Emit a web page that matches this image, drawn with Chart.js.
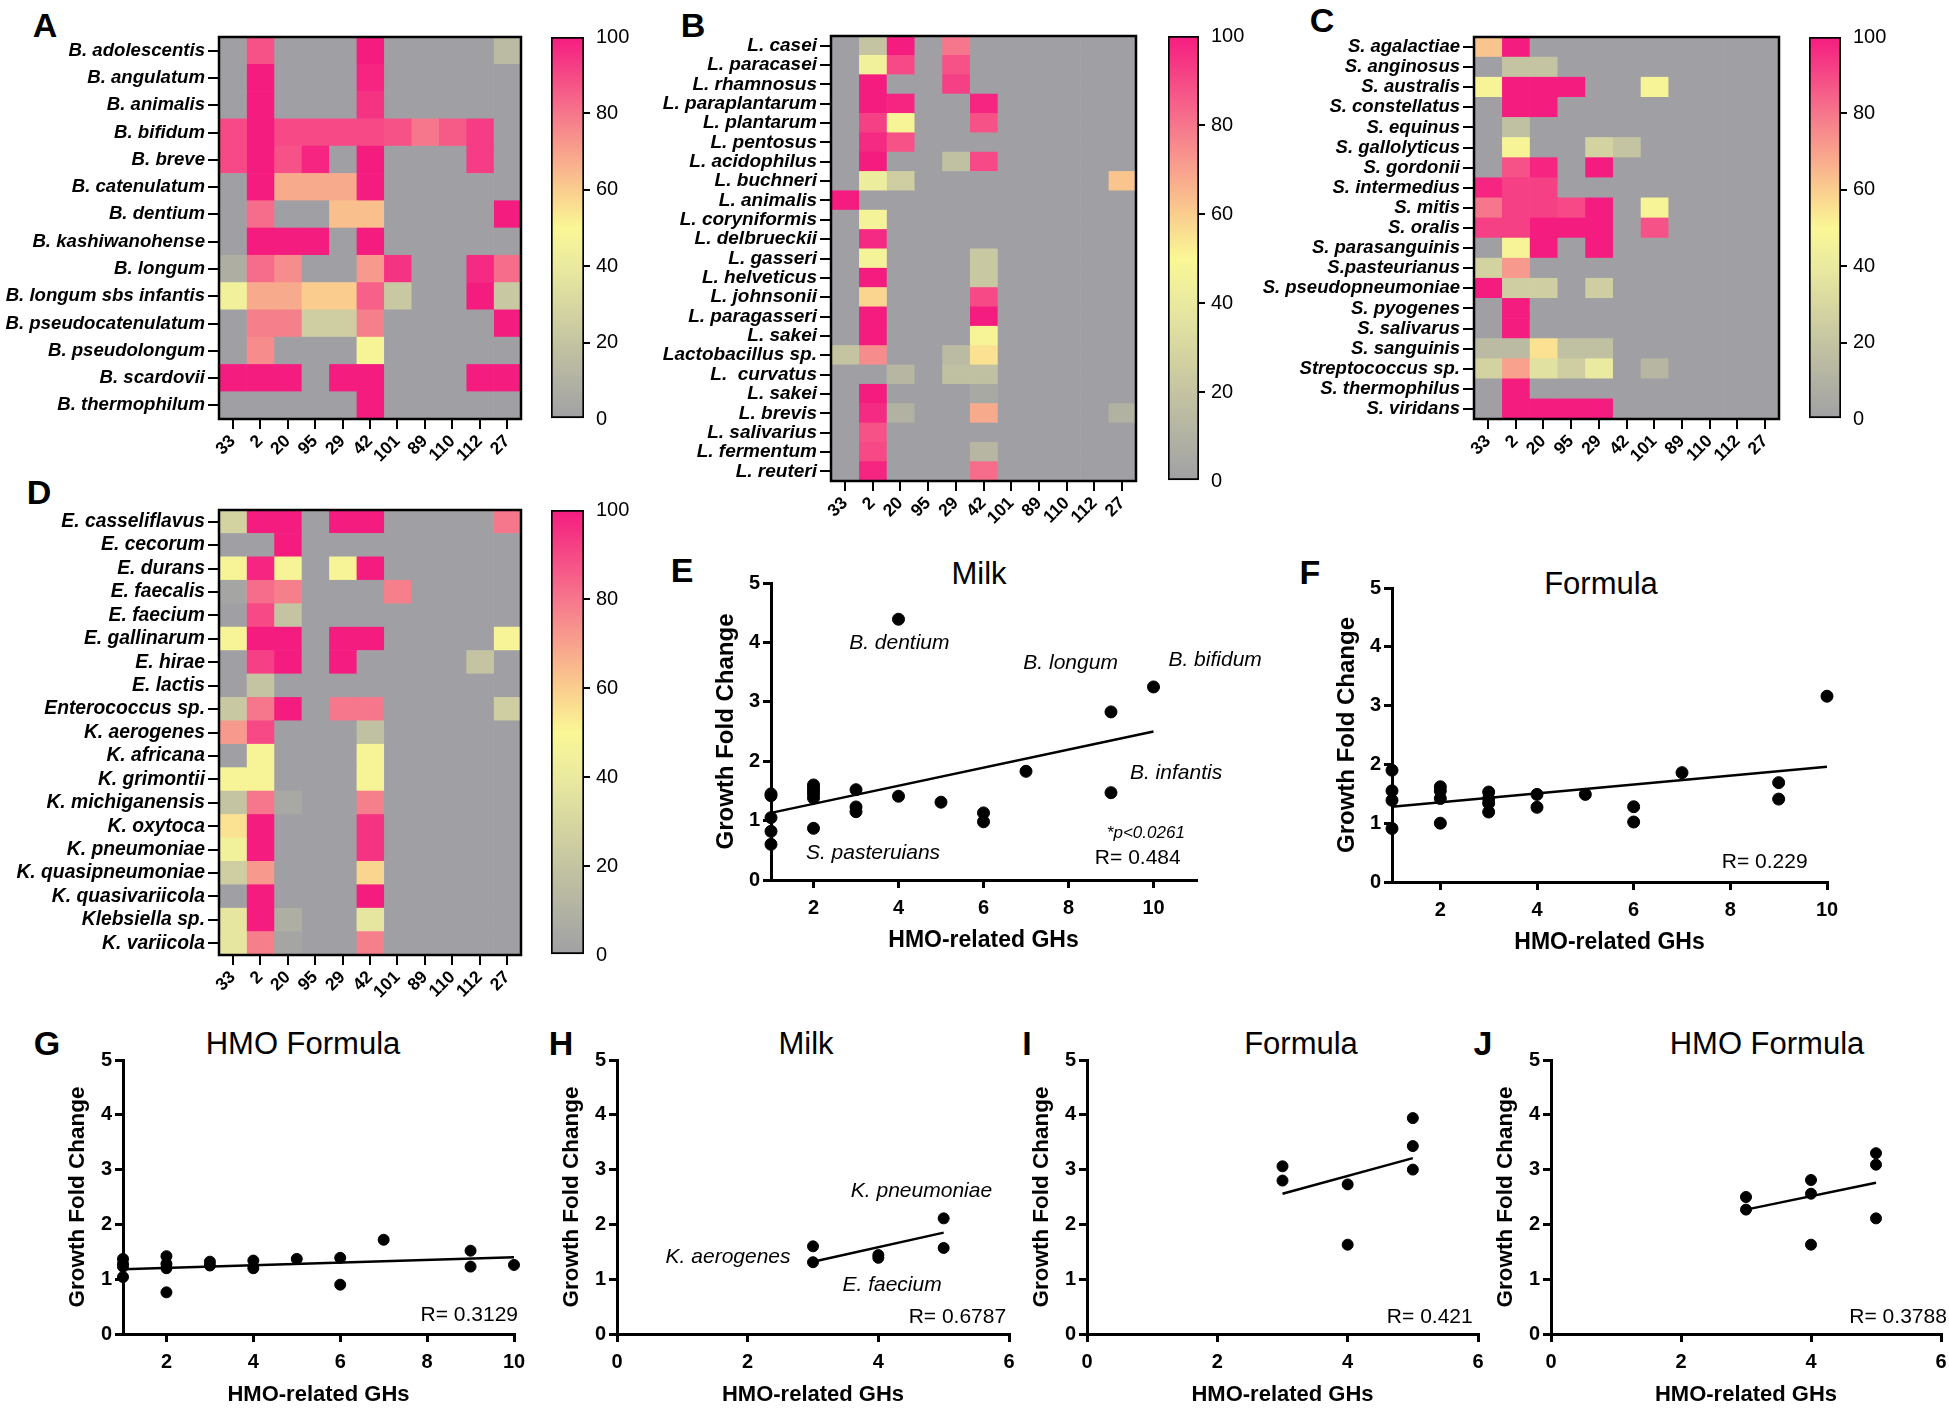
<!DOCTYPE html>
<html>
<head>
<meta charset="utf-8">
<script src="https://cdn.jsdelivr.net/npm/chart.js@4/dist/chart.umd.min.js"></script>
<style>
  html, body { margin: 0; padding: 0; overflow: hidden; background: #fff; }
  body { position: relative; width: 1949px; height: 1409px; font-family: 'Liberation Sans', Arial, sans-serif; }
  .t { position: absolute; transform: translate(-50%, -50%); white-space: nowrap; line-height: 1; color: #000; }
  .letter { font-size: 34px; font-weight: bold; }
  .title { font-size: 31px; }
</style>
</head>
<body>
<div class="t letter" style="left:45px;top:25px">A</div>
<div class="t letter" style="left:693px;top:25px">B</div>
<div class="t letter" style="left:1322px;top:20px">C</div>
<div class="t letter" style="left:39px;top:492px">D</div>
<div class="t letter" style="left:682px;top:570px">E</div>
<div class="t letter" style="left:1310px;top:572px">F</div>
<div class="t letter" style="left:47px;top:1043px">G</div>
<div class="t letter" style="left:561px;top:1043px">H</div>
<div class="t letter" style="left:1027px;top:1043px">I</div>
<div class="t letter" style="left:1483px;top:1043px">J</div>
<div class="t title" style="left:979px;top:573px">Milk</div>
<div class="t title" style="left:1601px;top:583px">Formula</div>
<div class="t title" style="left:303px;top:1043px">HMO Formula</div>
<div class="t title" style="left:806px;top:1043px">Milk</div>
<div class="t title" style="left:1301px;top:1043px">Formula</div>
<div class="t title" style="left:1767px;top:1043px">HMO Formula</div>

<script>
// GH families (heatmap columns)
const ghCols = ['33', '2', '20', '95', '29', '42', '101', '89', '110', '112', '27'];

// A - Bifidobacterium
const rowsA = ['B. adolescentis', 'B. angulatum', 'B. animalis', 'B. bifidum', 'B. breve', 'B. catenulatum',
  'B. dentium', 'B. kashiwanohense', 'B. longum', 'B. longum sbs infantis', 'B. pseudocatenulatum',
  'B. pseudolongum', 'B. scardovii', 'B. thermophilum'];
const valsA = [
  [0, 88, 0, 0, 0, 100, 0, 0, 0, 0, 15],
  [0, 100, 0, 0, 0, 98, 0, 0, 0, 0, 0],
  [0, 100, 0, 0, 0, 95, 0, 0, 0, 0, 0],
  [90, 100, 90, 90, 90, 90, 88, 80, 86, 93, 0],
  [90, 100, 88, 98, 0, 100, 0, 0, 0, 93, 0],
  [0, 100, 68, 68, 68, 100, 0, 0, 0, 0, 0],
  [0, 82, 0, 0, 63, 63, 0, 0, 0, 0, 100],
  [0, 100, 100, 100, 0, 100, 0, 0, 0, 0, 0],
  [8, 82, 75, 0, 0, 72, 95, 0, 0, 97, 82],
  [45, 68, 68, 60, 60, 85, 22, 0, 0, 100, 22],
  [0, 78, 78, 25, 25, 78, 0, 0, 0, 0, 100],
  [0, 75, 0, 0, 0, 48, 0, 0, 0, 0, 0],
  [100, 100, 100, 0, 100, 100, 0, 0, 0, 100, 100],
  [0, 0, 0, 0, 0, 100, 0, 0, 0, 0, 0]
];

// B - Lactobacillus
const rowsB = ['L. casei', 'L. paracasei', 'L. rhamnosus', 'L. paraplantarum', 'L. plantarum', 'L. pentosus',
  'L. acidophilus', 'L. buchneri', 'L. animalis', 'L. coryniformis', 'L. delbrueckii', 'L. gasseri',
  'L. helveticus', 'L. johnsonii', 'L. paragasseri', 'L. sakei', 'Lactobacillus sp.', 'L.  curvatus',
  'L. sakei', 'L. brevis', 'L. salivarius', 'L. fermentum', 'L. reuteri'];
const valsB = [
  [0, 20, 100, 0, 80, 0, 0, 0, 0, 0, 0],
  [0, 45, 90, 0, 88, 0, 0, 0, 0, 0, 0],
  [0, 100, 0, 0, 92, 0, 0, 0, 0, 0, 0],
  [0, 100, 98, 0, 0, 98, 0, 0, 0, 0, 0],
  [0, 92, 48, 0, 0, 88, 0, 0, 0, 0, 0],
  [0, 97, 88, 0, 0, 0, 0, 0, 0, 0, 0],
  [0, 100, 0, 0, 18, 90, 0, 0, 0, 0, 0],
  [0, 42, 25, 0, 0, 0, 0, 0, 0, 0, 62],
  [100, 0, 0, 0, 0, 0, 0, 0, 0, 0, 0],
  [0, 47, 0, 0, 0, 0, 0, 0, 0, 0, 0],
  [0, 97, 0, 0, 0, 0, 0, 0, 0, 0, 0],
  [0, 47, 0, 0, 0, 22, 0, 0, 0, 0, 0],
  [0, 100, 0, 0, 0, 22, 0, 0, 0, 0, 0],
  [0, 58, 0, 0, 0, 90, 0, 0, 0, 0, 0],
  [0, 100, 0, 0, 0, 100, 0, 0, 0, 0, 0],
  [0, 100, 0, 0, 0, 48, 0, 0, 0, 0, 0],
  [20, 75, 0, 0, 15, 55, 0, 0, 0, 0, 0],
  [0, 0, 12, 0, 18, 18, 0, 0, 0, 0, 0],
  [0, 100, 0, 0, 0, 5, 0, 0, 0, 0, 0],
  [0, 97, 10, 0, 0, 68, 0, 0, 0, 0, 10],
  [0, 88, 0, 0, 0, 0, 0, 0, 0, 0, 0],
  [0, 90, 0, 0, 0, 12, 0, 0, 0, 0, 0],
  [0, 98, 0, 0, 0, 82, 0, 0, 0, 0, 0]
];

// C - Streptococcus
const rowsC = ['S. agalactiae', 'S. anginosus', 'S. australis', 'S. constellatus', 'S. equinus', 'S. gallolyticus',
  'S. gordonii', 'S. intermedius', 'S. mitis', 'S. oralis', 'S. parasanguinis', 'S.pasteurianus',
  'S. pseudopneumoniae', 'S. pyogenes', 'S. salivarus', 'S. sanguinis', 'Streptococcus sp.',
  'S. thermophilus', 'S. viridans'];
const valsC = [
  [62, 100, 0, 0, 0, 0, 0, 0, 0, 0, 0],
  [0, 20, 20, 0, 0, 0, 0, 0, 0, 0, 0],
  [48, 100, 100, 100, 0, 0, 48, 0, 0, 0, 0],
  [0, 100, 100, 0, 0, 0, 0, 0, 0, 0, 0],
  [0, 18, 0, 0, 0, 0, 0, 0, 0, 0, 0],
  [0, 48, 0, 0, 28, 20, 0, 0, 0, 0, 0],
  [0, 88, 98, 0, 100, 0, 0, 0, 0, 0, 0],
  [98, 92, 92, 0, 0, 0, 0, 0, 0, 0, 0],
  [80, 92, 92, 90, 100, 0, 48, 0, 0, 0, 0],
  [92, 92, 100, 100, 100, 0, 88, 0, 0, 0, 0],
  [0, 48, 100, 0, 100, 0, 0, 0, 0, 0, 0],
  [28, 72, 0, 0, 0, 0, 0, 0, 0, 0, 0],
  [100, 25, 25, 0, 25, 0, 0, 0, 0, 0, 0],
  [0, 100, 0, 0, 0, 0, 0, 0, 0, 0, 0],
  [0, 100, 0, 0, 0, 0, 0, 0, 0, 0, 0],
  [15, 15, 55, 18, 18, 0, 0, 0, 0, 0, 0],
  [28, 70, 35, 25, 40, 0, 12, 0, 0, 0, 0],
  [0, 100, 0, 0, 0, 0, 0, 0, 0, 0, 0],
  [0, 100, 100, 100, 100, 0, 0, 0, 0, 0, 0]
];

// D - Enterococcus / Klebsiella
const rowsD = ['E. casseliflavus', 'E. cecorum', 'E. durans', 'E. faecalis', 'E. faecium', 'E. gallinarum',
  'E. hirae', 'E. lactis', 'Enterococcus sp.', 'K. aerogenes', 'K. africana', 'K. grimontii',
  'K. michiganensis', 'K. oxytoca', 'K. pneumoniae', 'K. quasipneumoniae', 'K. quasivariicola',
  'Klebsiella sp.', 'K. variicola'];
const valsD = [
  [28, 100, 100, 0, 100, 100, 0, 0, 0, 0, 80],
  [0, 0, 100, 0, 0, 0, 0, 0, 0, 0, 0],
  [48, 98, 48, 0, 48, 100, 0, 0, 0, 0, 0],
  [3, 82, 78, 0, 0, 0, 78, 0, 0, 0, 0],
  [0, 90, 20, 0, 0, 0, 0, 0, 0, 0, 0],
  [48, 100, 100, 0, 100, 100, 0, 0, 0, 0, 48],
  [0, 92, 100, 0, 100, 0, 0, 0, 0, 20, 0],
  [0, 20, 0, 0, 0, 0, 0, 0, 0, 0, 0],
  [22, 80, 100, 0, 80, 80, 0, 0, 0, 0, 25],
  [72, 90, 0, 0, 0, 18, 0, 0, 0, 0, 0],
  [0, 48, 0, 0, 0, 48, 0, 0, 0, 0, 0],
  [48, 48, 0, 0, 0, 48, 0, 0, 0, 0, 0],
  [20, 80, 5, 0, 0, 78, 0, 0, 0, 0, 0],
  [55, 100, 0, 0, 0, 95, 0, 0, 0, 0, 0],
  [45, 100, 0, 0, 0, 95, 0, 0, 0, 0, 0],
  [25, 72, 0, 0, 0, 58, 0, 0, 0, 0, 0],
  [0, 100, 0, 0, 0, 100, 0, 0, 0, 0, 0],
  [38, 100, 8, 0, 0, 38, 0, 0, 0, 0, 0],
  [38, 78, 3, 0, 0, 78, 0, 0, 0, 0, 0]
];

// E-J scatter data: HMO-related GHs vs growth fold change
const xE = [1, 1, 1, 1, 1, 2, 2, 2, 2, 2, 2, 3, 3, 3, 4, 4, 5, 6, 6, 7, 9, 9, 10];
const yE = [1.45, 1.42, 1.05, 0.82, 0.60, 1.60, 1.55, 1.50, 1.45, 1.38, 0.87, 1.52, 1.23, 1.15, 4.39, 1.41, 1.31, 1.13, 0.98, 1.83, 2.83, 1.47, 3.25];
const fitXE = [1, 10];
const fitYE = [1.13, 2.50];

const xF = [1, 1, 1, 1, 2, 2, 2, 2, 3, 3, 3, 3, 4, 4, 5, 6, 6, 7, 9, 9, 10];
const yF = [1.90, 1.55, 1.39, 0.91, 1.62, 1.55, 1.42, 1.00, 1.53, 1.42, 1.34, 1.19, 1.49, 1.27, 1.49, 1.28, 1.02, 1.86, 1.69, 1.41, 3.16];
const fitXF = [1, 10];
const fitYF = [1.28, 1.96];

const xG = [1, 1, 1, 1, 2, 2, 2, 2, 3, 3, 4, 4, 5, 6, 6, 7, 9, 9, 10];
const yG = [1.37, 1.28, 1.23, 1.04, 1.42, 1.28, 1.20, 0.76, 1.32, 1.25, 1.34, 1.20, 1.37, 1.39, 0.90, 1.72, 1.52, 1.23, 1.26];
const fitXG = [1, 10];
const fitYG = [1.18, 1.40];

const xH = [3, 3, 4, 4, 5, 5];
const yH = [1.60, 1.31, 1.44, 1.39, 2.11, 1.57];
const fitXH = [3, 5];
const fitYH = [1.32, 1.85];

const xI = [3, 3, 4, 4, 5, 5, 5];
const yI = [3.06, 2.80, 2.73, 1.63, 3.94, 3.43, 3.00];
const fitXI = [3, 5];
const fitYI = [2.56, 3.21];

const xJ = [3, 3, 4, 4, 4, 5, 5, 5];
const yJ = [2.50, 2.27, 2.81, 2.56, 1.63, 3.30, 3.09, 2.11];
const fitXJ = [3, 5];
const fitYJ = [2.27, 2.76];

const ticksWide = [2, 4, 6, 8, 10];
const ticksNarrow = [0, 2, 4, 6];

// colour map, grey -> olive -> yellow -> peach -> pink
const cmapStops = [0, 20, 40, 50, 60, 80, 100];
const cmapRGB = [[160, 160, 164], [196, 196, 162], [234, 234, 160], [250, 247, 150], [250, 205, 142], [246, 118, 140], [245, 28, 128]];

const FONT = "'Liberation Sans', Arial, sans-serif";
Chart.defaults.font.family = FONT;
Chart.defaults.color = '#000';
Chart.defaults.animation = false;

function rgb(a) { return `rgb(${a[0]},${a[1]},${a[2]})`; }

function heatColor(v) {
  for (let i = 1; i < cmapStops.length; i++) {
    if (v <= cmapStops[i]) {
      const f = (v - cmapStops[i - 1]) / (cmapStops[i] - cmapStops[i - 1]);
      const a = cmapRGB[i - 1], b = cmapRGB[i];
      return rgb(a.map((c, k) => Math.round(c + (b[k] - c) * f)));
    }
  }
  return rgb(cmapRGB[cmapRGB.length - 1]);
}

function place(left, top, w, h) {
  const c = document.createElement('canvas');
  c.width = w; c.height = h;
  c.style.cssText = `position:absolute;left:${left}px;top:${top}px;width:${w}px;height:${h}px`;
  document.body.appendChild(c);
  return c;
}

const boxPlugin = {
  id: 'box',
  afterDraw(chart) {
    const { ctx, chartArea: a } = chart;
    ctx.save();
    ctx.lineWidth = 2.5;
    ctx.strokeStyle = '#000';
    ctx.strokeRect(a.left, a.top, a.right - a.left, a.bottom - a.top);
    ctx.restore();
  }
};

function notesPlugin(items) {
  return {
    id: 'notes',
    afterDraw(chart) {
      const { ctx, scales: { x, y } } = chart;
      ctx.save();
      ctx.fillStyle = '#000';
      ctx.textAlign = 'center';
      ctx.textBaseline = 'middle';
      items.forEach(n => {
        ctx.font = n.font;
        ctx.fillText(n.text, x.getPixelForValue(n.x), y.getPixelForValue(n.y));
      });
      ctx.restore();
    }
  };
}

function heatmap(rows, vals, box, labW, fontSize) {
  const [l, t, r, b] = box;
  const padT = 16, padR = 6, xH = 70;
  const canvas = place(l - labW, t - padT, labW + (r - l) + padR, (b - t) + padT + xH);
  new Chart(canvas, {
    type: 'bar',
    data: {
      labels: rows,
      datasets: ghCols.map((g, j) => ({
        label: g,
        data: rows.map(() => 1),
        backgroundColor: rows.map((_, i) => heatColor(vals[i][j])),
        borderWidth: 0,
        barPercentage: 1,
        categoryPercentage: 1
      }))
    },
    options: {
      indexAxis: 'y',
      responsive: false,
      animation: false,
      layout: { padding: { top: padT, right: padR, left: 0, bottom: 0 } },
      plugins: { legend: { display: false }, tooltip: { enabled: false } },
      scales: {
        x: {
          stacked: true, min: 0, max: ghCols.length,
          afterBuildTicks: s => { s.ticks = ghCols.map((g, j) => ({ value: j + 0.5 })); },
          afterFit: s => { s.height = xH; },
          ticks: { autoSkip: false, minRotation: 45, maxRotation: 45, padding: 2,
            font: { size: 17.5, weight: 'bold' }, callback: (v, i) => ghCols[i] },
          grid: { drawOnChartArea: false, tickLength: 10, color: '#000', lineWidth: 2 },
          border: { display: false }
        },
        y: {
          stacked: true,
          afterFit: s => { s.width = labW; },
          ticks: { autoSkip: false, padding: 3, font: { size: fontSize, weight: 'bold', style: 'italic' } },
          grid: { drawOnChartArea: false, offset: false, tickLength: 11, color: '#000', lineWidth: 2 },
          border: { display: false }
        }
      }
    },
    plugins: [boxPlugin]
  });
}

function colorbar(box) {
  const [l, t, r, b] = box;
  const pad = 20, axW = 62;
  const canvas = place(l, t - pad, (r - l) + axW, (b - t) + 2 * pad);
  new Chart(canvas, {
    type: 'bar',
    data: {
      labels: [''],
      datasets: [{
        data: [[0, 100]],
        backgroundColor: c => {
          const a = c.chart.chartArea;
          if (!a) return '#aaa';
          const g = c.chart.ctx.createLinearGradient(0, a.bottom, 0, a.top);
          cmapStops.forEach((s, i) => g.addColorStop(s / 100, rgb(cmapRGB[i])));
          return g;
        },
        borderColor: '#000', borderWidth: 2, borderSkipped: false,
        barPercentage: 1, categoryPercentage: 1
      }]
    },
    options: {
      responsive: false,
      animation: false,
      layout: { padding: { top: pad, bottom: pad, left: 0, right: 0 } },
      plugins: { legend: { display: false }, tooltip: { enabled: false } },
      scales: {
        x: { display: false },
        y: {
          position: 'right', min: 0, max: 100,
          afterFit: s => { s.width = axW; },
          ticks: { stepSize: 20, padding: 6, font: { size: 20 } },
          grid: { drawOnChartArea: false, tickLength: 6, lineWidth: 2,
            color: c => (c.tick && (c.tick.value === 0 || c.tick.value === 100)) ? 'rgba(0,0,0,0)' : '#000' },
          border: { display: false }
        }
      }
    }
  });
}

function scatter(xs, ys, fitX, fitY, plot, xMin, xMax, xTicks, padR, radius, titleSize, notes) {
  const [l, t, r, b] = plot;
  const yW = 62, padT = 20, xH = 78;
  const canvas = place(l - yW, t - padT, yW + (r - l) + padR, padT + (b - t) + xH);
  const axisGrid = { drawOnChartArea: false, tickLength: 8, color: '#000', lineWidth: 3 };
  new Chart(canvas, {
    type: 'scatter',
    data: {
      datasets: [
        { data: xs.map((x, i) => ({ x, y: ys[i] })), backgroundColor: '#000', borderColor: '#000',
          pointRadius: radius, clip: false },
        { data: fitX.map((x, i) => ({ x, y: fitY[i] })), showLine: true, borderColor: '#000',
          borderWidth: 2.5, pointRadius: 0, clip: false }
      ]
    },
    options: {
      responsive: false,
      animation: false,
      layout: { padding: { top: padT, right: padR, left: 0, bottom: 0 } },
      plugins: { legend: { display: false }, tooltip: { enabled: false } },
      scales: {
        x: {
          type: 'linear', min: xMin, max: xMax,
          afterBuildTicks: s => { s.ticks = xTicks.map(v => ({ value: v })); },
          afterFit: s => { s.height = xH; },
          ticks: { padding: 8, font: { size: 20, weight: 'bold' } },
          grid: axisGrid,
          border: { color: '#000', width: 3 },
          title: { display: true, text: 'HMO-related GHs', font: { size: titleSize[0], weight: 'bold' }, padding: { top: 4, bottom: 4 } }
        },
        y: {
          min: 0, max: 5,
          afterFit: s => { s.width = yW; },
          ticks: { stepSize: 1, padding: 3, font: { size: 20, weight: 'bold' } },
          grid: axisGrid,
          border: { color: '#000', width: 3 },
          title: { display: true, text: 'Growth Fold Change', font: { size: titleSize[1], weight: 'bold' }, padding: { top: 3, bottom: 3 } }
        }
      }
    },
    plugins: [notesPlugin(notes)]
  });
}

const itF = `italic 21px ${FONT}`;
const rF = `21px ${FONT}`;
const pF = `italic 17px ${FONT}`;
const bigTitles = [23, 24];
const smallTitles = [22, 22.5];

// heatmaps and colour bars
heatmap(rowsA, valsA, [219, 37, 521, 419], 219, 18.6);
colorbar([551, 37, 584, 419]);
heatmap(rowsB, valsB, [831, 36, 1136, 481], 180, 19);
colorbar([1168, 36, 1199, 481]);
heatmap(rowsC, valsC, [1474, 37, 1779, 419], 226, 18.5);
colorbar([1809, 37, 1841, 419]);
heatmap(rowsD, valsD, [219, 510, 521, 955], 219, 19.3);
colorbar([551, 510, 584, 955]);

// scatter panels
scatter(xE, yE, fitXE, fitYE, [771, 583, 1196, 880], 1, 11, ticksWide, 80, 6, bigTitles, [
  { text: 'B. dentium', x: 4.02, y: 3.99, font: itF },
  { text: 'B. longum', x: 8.05, y: 3.65, font: itF },
  { text: 'B. bifidum', x: 11.45, y: 3.70, font: itF },
  { text: 'B. infantis', x: 10.53, y: 1.80, font: itF },
  { text: 'S. pasteruians', x: 3.4, y: 0.45, font: itF },
  { text: '*p<0.0261', x: 9.82, y: 0.79, font: pF },
  { text: 'R= 0.484', x: 9.63, y: 0.37, font: rF }
]);
scatter(xF, yF, fitXF, fitYF, [1392, 588, 1827, 882], 1, 10, ticksWide, 20, 6, bigTitles, [
  { text: 'R= 0.229', x: 8.71, y: 0.34, font: rF }
]);
scatter(xG, yG, fitXG, fitYG, [123, 1060, 514, 1334], 1, 10, ticksWide, 20, 5.5, smallTitles, [
  { text: 'R= 0.3129', x: 8.97, y: 0.35, font: rF }
]);
scatter(xH, yH, fitXH, fitYH, [617, 1060, 1009, 1334], 0, 6, ticksNarrow, 20, 5.5, smallTitles, [
  { text: 'K. pneumoniae', x: 4.66, y: 2.60, font: itF },
  { text: 'K. aerogenes', x: 1.70, y: 1.41, font: itF },
  { text: 'E. faecium', x: 4.21, y: 0.89, font: itF },
  { text: 'R= 0.6787', x: 5.21, y: 0.31, font: rF }
]);
scatter(xI, yI, fitXI, fitYI, [1087, 1060, 1478, 1334], 0, 6, ticksNarrow, 20, 5.5, smallTitles, [
  { text: 'R= 0.421', x: 5.26, y: 0.31, font: rF }
]);
scatter(xJ, yJ, fitXJ, fitYJ, [1551, 1060, 1941, 1334], 0, 6, ticksNarrow, 20, 5.5, smallTitles, [
  { text: 'R= 0.3788', x: 5.34, y: 0.31, font: rF }
]);
</script>
</body>
</html>
